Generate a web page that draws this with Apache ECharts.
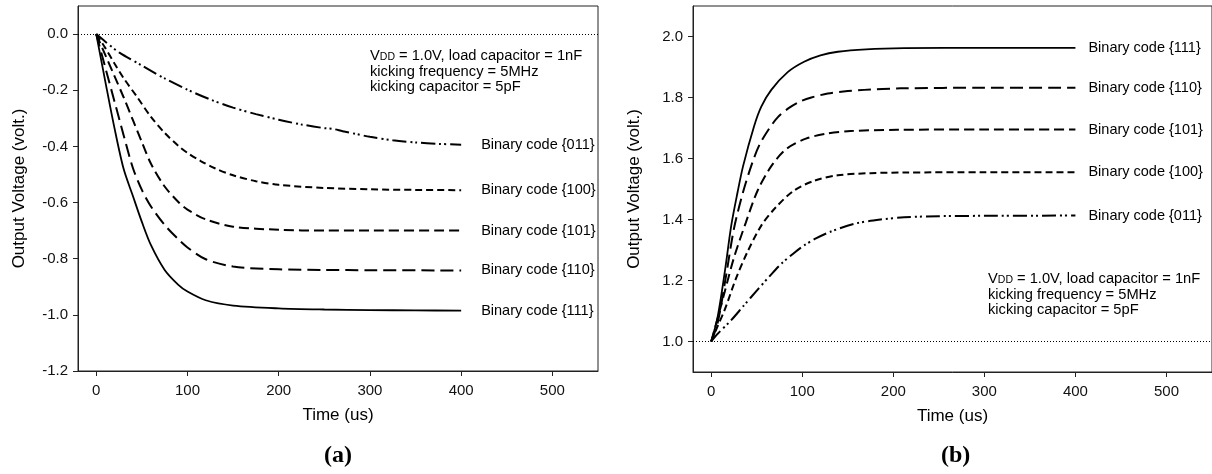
<!DOCTYPE html>
<html>
<head>
<meta charset="utf-8">
<title>Output voltage vs time</title>
<script src="https://cdn.jsdelivr.net/npm/echarts@6/dist/echarts.min.js"></script>
<style>
  html, body { margin: 0; padding: 0; background: #fff; }
  #main { width: 1212px; height: 474px; }
</style>
</head>
<body>
<div id="main"></div>
<script>
// tick labels
var xTicks = [0, 100, 200, 300, 400, 500];
var yTicksA = [-1.2, -1.0, -0.8, -0.6, -0.4, -0.2, 0.0];
var yTicksB = [1.0, 1.2, 1.4, 1.6, 1.8, 2.0];
var refA = 0.0;   // dotted line (a)
var refB = 1.0;   // dotted line (b)

// (a) curves, time in us / volts
var tA111 = [0, 10, 20, 30, 40, 50, 60, 75, 90, 100, 120, 150, 200, 250, 300, 350, 400];
var vA111 = [0, -0.17, -0.335, -0.48, -0.575, -0.669, -0.752, -0.84, -0.893, -0.917, -0.948, -0.967, -0.977, -0.981, -0.983, -0.984, -0.985];
var tA110 = [0, 10, 20, 30, 40, 50, 60, 75, 90, 100, 120, 150, 200, 250, 300, 400];
var vA110 = [0, -0.12, -0.24, -0.36, -0.475, -0.555, -0.614, -0.68, -0.731, -0.76, -0.802, -0.828, -0.838, -0.84, -0.841, -0.842];
var tA101 = [0, 10, 20, 30, 40, 50, 60, 75, 90, 100, 120, 150, 200, 250, 300, 400];
var vA101 = [0, -0.075, -0.15, -0.225, -0.305, -0.385, -0.462, -0.543, -0.598, -0.625, -0.66, -0.686, -0.697, -0.70, -0.70, -0.70];
var tA100 = [0, 10, 20, 30, 45, 60, 75, 90, 100, 115, 130, 150, 175, 200, 250, 300, 350, 400];
var vA100 = [0, -0.05, -0.105, -0.157, -0.225, -0.295, -0.352, -0.398, -0.423, -0.453, -0.478, -0.503, -0.524, -0.537, -0.548, -0.553, -0.555, -0.556];
var tA011 = [0, 10, 25, 50, 75, 100, 125, 150, 175, 200, 225, 250, 260, 270, 285, 300, 325, 350, 375, 400];
var vA011 = [0, -0.027, -0.065, -0.112, -0.158, -0.198, -0.233, -0.262, -0.285, -0.305, -0.322, -0.335, -0.338, -0.346, -0.356, -0.366, -0.378, -0.386, -0.391, -0.394];

// (b) curves
var tB111 = [0, 7, 15, 22, 29, 35, 47, 55, 66, 84, 102, 120, 139, 170, 212, 300, 400];
var vB111 = [1.0, 1.08, 1.23, 1.38, 1.49, 1.575, 1.705, 1.77, 1.825, 1.883, 1.917, 1.938, 1.95, 1.958, 1.962, 1.963, 1.963];
var tB110 = [0, 7, 16, 25, 35, 45, 53, 63, 73, 85, 97, 110, 128, 150, 168, 208, 300, 400];
var vB110 = [1.0, 1.06, 1.21, 1.37, 1.49, 1.585, 1.645, 1.695, 1.735, 1.765, 1.786, 1.80, 1.813, 1.821, 1.825, 1.83, 1.832, 1.832];
var tB101 = [0, 7, 15, 25, 38, 51, 66, 82, 104, 126, 153, 204, 300, 400];
var vB101 = [1.0, 1.075, 1.165, 1.275, 1.39, 1.495, 1.575, 1.63, 1.665, 1.681, 1.69, 1.694, 1.695, 1.695];
var tB100 = [0, 7, 15, 27, 40, 55, 71, 91, 113, 139, 175, 212, 300, 400];
var vB100 = [1.0, 1.05, 1.105, 1.205, 1.295, 1.38, 1.44, 1.495, 1.527, 1.545, 1.552, 1.554, 1.555, 1.555];
var tB011 = [0, 7, 22, 35, 51, 65, 77, 90, 102, 115, 131, 157, 186, 212, 250, 300, 400];
var vB011 = [1.0, 1.025, 1.07, 1.115, 1.17, 1.217, 1.255, 1.288, 1.315, 1.338, 1.36, 1.386, 1.4, 1.407, 1.411, 1.412, 1.413];

var FONT = '"Liberation Sans", Arial, sans-serif';

function pairs(t, v) {
    return t.map(function (x, i) { return [x, v[i]]; });
}

// line dash per code
var dash = {
    '111': 'solid',
    '110': [13, 6],
    '101': [10, 5],
    '100': [7, 4],
    '011': [14, 4, 2, 3, 2, 4]
};

function curve(code, t, v, idx, labelGap) {
    return {
        name: 'Binary code {' + code + '}',
        type: 'line',
        xAxisIndex: idx,
        yAxisIndex: idx,
        data: pairs(t, v),
        symbol: 'none',
        smooth: 0.3,
        lineStyle: { color: '#000', width: code === '111' ? 1.8 : 2, type: dash[code] },
        endLabel: {
            show: true,
            distance: labelGap,
            formatter: function (p) { return p.seriesName; },
            color: '#000',
            fontSize: 14.5,
            fontFamily: FONT
        }
    };
}

function refLine(idx, y) {
    return {
        type: 'line',
        xAxisIndex: idx,
        yAxisIndex: idx,
        data: [],
        silent: true,
        markLine: {
            silent: true,
            symbol: ['none', 'none'],
            label: { show: false },
            lineStyle: { color: '#000', width: 1, type: [1, 2] },
            data: [{ yAxis: y }]
        }
    };
}

function xAxis(idx) {
    return {
        type: 'value', gridIndex: idx, min: -20, max: 550,
        name: 'Time (us)', nameLocation: 'middle', nameGap: 36,
        nameTextStyle: { color: '#000', fontSize: 17, fontFamily: FONT },
        axisLine: { onZero: false, lineStyle: { color: '#222', width: 1 } },
        axisTick: { inside: false, length: 5, customValues: xTicks, lineStyle: { color: '#222' } },
        axisLabel: { customValues: xTicks, margin: 12, color: '#111', fontSize: 15, fontFamily: FONT },
        splitLine: { show: false }
    };
}

function yAxis(idx, lo, hi, ticks) {
    return {
        type: 'value', gridIndex: idx, min: lo, max: hi,
        name: 'Output Voltage (volt.)', nameLocation: 'middle', nameGap: 50,
        nameTextStyle: { color: '#000', fontSize: 17, fontFamily: FONT },
        axisLine: { show: true, onZero: false, lineStyle: { color: '#222', width: 1 } },
        axisTick: { show: true, inside: false, length: 5, customValues: ticks, lineStyle: { color: '#222' } },
        axisLabel: {
            customValues: ticks, margin: 10, color: '#111', fontSize: 15, fontFamily: FONT,
            formatter: function (v) { return v.toFixed(1); }
        },
        splitLine: { show: false }
    };
}

function note(x, y) {
    var base = { fill: '#000', fontSize: 14.7, fontFamily: FONT };
    return [
        { type: 'text', left: x, top: y, style: Object.assign({}, base, {
            text: '{v|V}{d|DD}{n| = 1.0V, load capacitor = 1nF}',
            rich: {
                v: { fontSize: 14.7, fontFamily: FONT, verticalAlign: 'bottom', lineHeight: 16 },
                d: { fontSize: 10.5, fontFamily: FONT, verticalAlign: 'bottom', lineHeight: 15 },
                n: { fontSize: 14.7, fontFamily: FONT, verticalAlign: 'bottom', lineHeight: 16 }
            }
        }) },
        { type: 'text', left: x, top: y + 16, style: Object.assign({}, base, { text: 'kicking frequency = 5MHz' }) },
        { type: 'text', left: x, top: y + 31.5, style: Object.assign({}, base, { text: 'kicking capacitor = 5pF' }) }
    ];
}

var myChart = echarts.init(document.getElementById('main'));
var option = {
    animation: false,
    backgroundColor: '#fff',
    grid: [
        { left: 78, top: 6, width: 520, height: 365, show: true, borderColor: '#222', borderWidth: 1, containLabel: false },
        { left: 693, top: 6, width: 520, height: 366, show: true, borderColor: '#222', borderWidth: 1, containLabel: false }
    ],
    xAxis: [xAxis(0), xAxis(1)],
    yAxis: [yAxis(0, -1.2, 0.1, yTicksA), yAxis(1, 0.9, 2.1, yTicksB)],
    series: [
        refLine(0, refA),
        curve('011', tA011, vA011, 0, 20),
        curve('100', tA100, vA100, 0, 20),
        curve('101', tA101, vA101, 0, 20),
        curve('110', tA110, vA110, 0, 20),
        curve('111', tA111, vA111, 0, 20),
        refLine(1, refB),
        curve('111', tB111, vB111, 1, 13),
        curve('110', tB110, vB110, 1, 13),
        curve('101', tB101, vB101, 1, 13),
        curve('100', tB100, vB100, 1, 13),
        curve('011', tB011, vB011, 1, 13)
    ],
    graphic: note(370, 48).concat(note(988, 271)).concat([
        { type: 'text', left: 324, top: 444, style: { text: '(a)', fill: '#000', fontSize: 24, fontWeight: 'bold', fontFamily: '"Liberation Serif", "Times New Roman", serif' } },
        { type: 'text', left: 941, top: 444, style: { text: '(b)', fill: '#000', fontSize: 24, fontWeight: 'bold', fontFamily: '"Liberation Serif", "Times New Roman", serif' } }
    ])
};
myChart.setOption(option);
</script>
</body>
</html>
